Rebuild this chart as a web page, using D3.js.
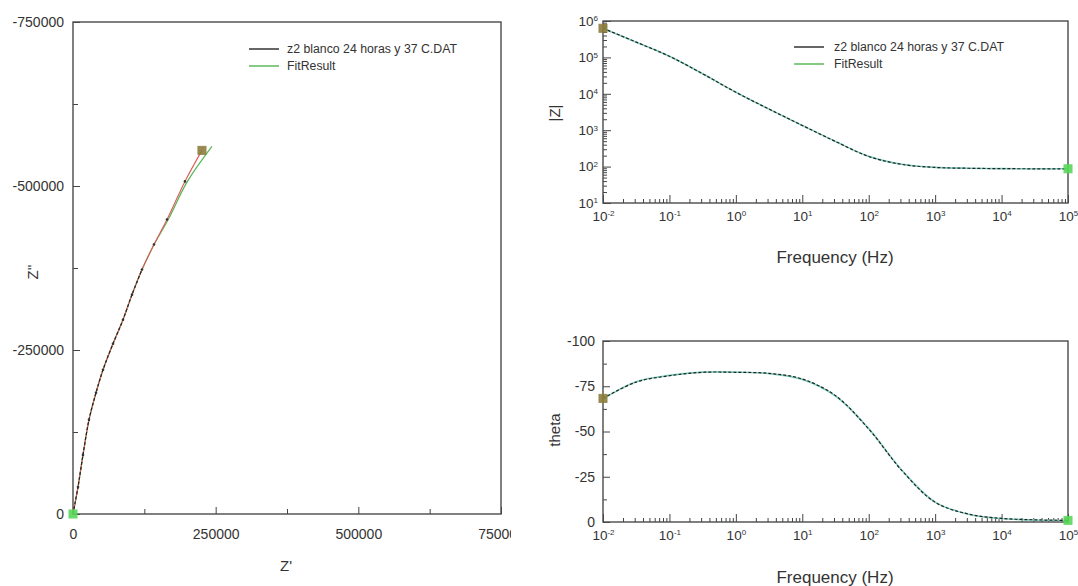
<!DOCTYPE html>
<html>
<head>
<meta charset="utf-8">
<script src="https://cdn.jsdelivr.net/npm/d3@7"></script>
<style>
  body { margin: 0; background: #fff; }
  svg { font-family: "Liberation Sans", Arial, sans-serif; }
  .tick text { fill: #333; }
  .tick line { stroke: #444; }
</style>
</head>
<body>
<svg id="chart" width="1078" height="586"></svg>
<script>
// Nyquist data (Z', Z'')
const nyqZr = [0, 8760, 17500, 28000, 40300, 52600, 70100, 87600, 103400, 120900, 141900, 164700, 196200, 226000];
const nyqZi = [0, -41200, -90100, -143500, -184800, -219900, -259600, -296200, -334400, -372600, -410800, -448900, -507000, -554300];
const fitZr = [0, 8800, 17550, 28050, 40350, 52650, 70150, 87650, 103450, 121000, 142100, 166800, 200500, 243500];
const fitZi = [0, -41200, -90100, -143500, -184800, -219900, -259600, -296200, -334400, -372600, -410800, -448900, -507000, -560400];

// Bode data
const freq = [0.01, 0.0316, 0.1, 0.316, 1, 3.16, 10, 31.6, 100, 316, 1000, 3162, 10000, 31623, 100000];
const magData = [631000, 263000, 107000, 35500, 11000, 3800, 1350, 490, 190, 115, 95, 90, 88, 87, 87];
const magFit = [620000, 262000, 107000, 35600, 11000, 3790, 1350, 492, 191, 116, 95, 90, 88, 87, 87];
const phaseData = [-68.3, -77.3, -80.8, -82.7, -82.7, -82.1, -79.0, -69.8, -51.4, -28.4, -10.9, -4.4, -2.0, -1.2, -0.9];
const phaseFit = [-68.0, -77.5, -81.0, -82.8, -82.8, -82.0, -78.8, -69.6, -51.6, -28.6, -11.0, -4.3, -1.9, -1.1, -0.8];

const nyqTicks = [0, 250000, 500000, 750000];
const nyqMinor = [125000, 375000, 625000];
const nyqYTicks = [0, -250000, -500000, -750000];
const nyqYMinor = [-125000, -375000, -625000];
const decades = [0.01, 0.1, 1, 10, 100, 1000, 10000, 100000];
const magDecades = [10, 100, 1000, 10000, 100000, 1000000];
const phaseTicks = [0, -25, -50, -75, -100];
const phaseMinor = [-12.5, -37.5, -62.5, -87.5];
const legendLabels = ["z2 blanco 24 horas y 37 C.DAT", "FitResult"];

const svg = d3.select("#chart");
const frameColor = "#4a4a4a";
const redC = "#e05a5a", greenC = "#5cb85c", olive = "#8c7d3c", brightGreen = "#58d858";
const plain = d => String(d); // keep ascii hyphen as minus

function minorLog(lo, hi) {
  const out = [];
  for (let e = lo; e < hi; e++) for (let k = 2; k <= 9; k++) out.push(k * Math.pow(10, e));
  return out;
}

function supLabels(sel) {
  sel.selectAll(".tick text").each(function (d) {
    const t = d3.select(this);
    const e = Math.round(Math.log10(d));
    t.text(null);
    t.append("tspan").text("10");
    t.append("tspan").attr("dy", "-0.55em").attr("font-size", "8px").text(e);
  });
}

function legend(g, x, y, gap) {
  const colors = ["#333", greenC];
  legendLabels.forEach((lab, i) => {
    g.append("line").attr("x1", x).attr("x2", x + 30)
      .attr("y1", y + i * 17).attr("y2", y + i * 17)
      .attr("stroke", colors[i]).attr("stroke-width", 1.5);
    g.append("text").attr("x", x + gap).attr("y", y + i * 17 + 4)
      .attr("font-size", "12.3px").attr("fill", "#333").text(lab);
  });
}

function frame(g, x0, y0, x1, y1) {
  g.append("rect").attr("x", x0).attr("y", y0)
    .attr("width", x1 - x0).attr("height", y1 - y0)
    .attr("fill", "none").attr("stroke", frameColor).attr("stroke-width", 1.4);
}

function square(g, x, y, c) {
  g.append("rect").attr("x", x - 4).attr("y", y - 4).attr("width", 8).attr("height", 8)
    .attr("fill", c).attr("stroke", c).attr("opacity", 0.9);
}

//********** NYQUIST ***********//
svg.append("clipPath").attr("id", "leftClip")
  .append("rect").attr("x", 0).attr("y", 0).attr("width", 511).attr("height", 586);
const gL = svg.append("g").attr("clip-path", "url(#leftClip)");

const xN = d3.scaleLinear().domain([0, 750000]).range([73, 501]);
const yN = d3.scaleLinear().domain([0, -750000]).range([514, 22]);

gL.append("g").attr("transform", "translate(0,514)")
  .call(d3.axisBottom(xN).tickValues(nyqTicks).tickSize(-7).tickPadding(15).tickFormat(plain))
  .call(g => g.select(".domain").remove())
  .selectAll("text").attr("font-size", "14px");
gL.append("g").attr("transform", "translate(0,514)")
  .call(d3.axisBottom(xN).tickValues(nyqMinor).tickSize(-5).tickFormat(""))
  .call(g => g.select(".domain").remove());
gL.append("g").attr("transform", "translate(73,0)")
  .call(d3.axisLeft(yN).tickValues(nyqYTicks).tickSize(-7).tickPadding(9).tickFormat(plain))
  .call(g => g.select(".domain").remove())
  .selectAll("text").attr("font-size", "14px");
gL.append("g").attr("transform", "translate(73,0)")
  .call(d3.axisLeft(yN).tickValues(nyqYMinor).tickSize(-5).tickFormat(""))
  .call(g => g.select(".domain").remove());
frame(gL, 73, 22, 501, 514);

const nyqLine = d3.line().x(d => xN(d[0])).y(d => yN(d[1])).curve(d3.curveCatmullRom);
const nyqPts = nyqZr.map((v, i) => [v, nyqZi[i]]);
const fitPts = fitZr.map((v, i) => [v, fitZi[i]]);

gL.append("path").datum(fitPts).attr("d", nyqLine)
  .attr("fill", "none").attr("stroke", greenC).attr("stroke-width", 1.3);
gL.append("path").datum(nyqPts).attr("d", nyqLine)
  .attr("fill", "none").attr("stroke", redC).attr("stroke-width", 1.1);
gL.append("path").datum(nyqPts.filter(d => d[0] <= 121000)).attr("d", nyqLine)
  .attr("fill", "none").attr("stroke", "#222").attr("stroke-width", 1.2).attr("stroke-dasharray", "3,2");
gL.selectAll(".ndot").data(nyqPts.slice(1, -1)).join("circle")
  .attr("cx", d => xN(d[0])).attr("cy", d => yN(d[1])).attr("r", 1.3).attr("fill", "#333");
square(gL, xN(nyqZr[nyqZr.length - 1]), yN(nyqZi[nyqZi.length - 1]), olive);
square(gL, xN(0), yN(0), brightGreen);

legend(gL, 249, 49, 38);
gL.append("text").attr("x", 286).attr("y", 571).attr("text-anchor", "middle")
  .attr("font-size", "15px").attr("fill", "#333").text("Z'");
gL.append("text").attr("transform", "translate(38,272) rotate(-90)").attr("text-anchor", "middle")
  .attr("font-size", "15px").attr("fill", "#333").text("Z''");

//********** BODE |Z| ***********//
const xB = d3.scaleLog().domain([0.01, 100000]).range([603, 1068]);
const yM = d3.scaleLog().domain([10, 1000000]).range([203, 21]);
const yP = d3.scaleLinear().domain([0, -100]).range([522, 341]);
const gT = svg.append("g");

function freqAxis(g, y0) {
  g.append("g").attr("transform", `translate(0,${y0})`)
    .call(d3.axisBottom(xB).tickValues(decades).tickSize(-8).tickPadding(8))
    .call(g => g.select(".domain").remove())
    .call(supLabels)
    .selectAll("text").attr("font-size", "13.5px");
  g.append("g").attr("transform", `translate(0,${y0})`)
    .call(d3.axisBottom(xB).tickValues(minorLog(-2, 5)).tickSize(-4).tickFormat(""))
    .call(g => g.select(".domain").remove());
}

freqAxis(gT, 203);
gT.append("g").attr("transform", "translate(603,0)")
  .call(d3.axisLeft(yM).tickValues(magDecades).tickSize(-8).tickPadding(5))
  .call(g => g.select(".domain").remove())
  .call(supLabels)
  .selectAll("text").attr("font-size", "13.5px");
gT.append("g").attr("transform", "translate(603,0)")
  .call(d3.axisLeft(yM).tickValues(minorLog(1, 6)).tickSize(-4).tickFormat(""))
  .call(g => g.select(".domain").remove());
frame(gT, 603, 21, 1068, 203);

const magLine = d3.line().x((d, i) => xB(freq[i])).y(d => yM(d)).curve(d3.curveCatmullRom);
gT.append("path").datum(magFit).attr("d", magLine)
  .attr("fill", "none").attr("stroke", "#7fd0c0").attr("stroke-width", 1.6);
gT.append("path").datum(magData).attr("d", magLine)
  .attr("fill", "none").attr("stroke", "#222").attr("stroke-width", 1.2).attr("stroke-dasharray", "3,2");
square(gT, xB(freq[0]), yM(magData[0]), olive);
square(gT, xB(freq[freq.length - 1]), yM(magData[magData.length - 1]), brightGreen);
legend(gT, 794, 47, 40);
gT.append("text").attr("x", 835).attr("y", 263).attr("text-anchor", "middle")
  .attr("font-size", "17px").attr("fill", "#333").text("Frequency (Hz)");
gT.append("text").attr("transform", "translate(560,113) rotate(-90)").attr("text-anchor", "middle")
  .attr("font-size", "15px").attr("fill", "#333").text("|Z|");

//********** BODE THETA ***********//
const gB = svg.append("g");
freqAxis(gB, 522);
gB.append("g").attr("transform", "translate(603,0)")
  .call(d3.axisLeft(yP).tickValues(phaseTicks).tickSize(-7).tickPadding(8).tickFormat(plain))
  .call(g => g.select(".domain").remove())
  .selectAll("text").attr("font-size", "14px");
gB.append("g").attr("transform", "translate(603,0)")
  .call(d3.axisLeft(yP).tickValues(phaseMinor).tickSize(-4).tickFormat(""))
  .call(g => g.select(".domain").remove());
frame(gB, 603, 341, 1068, 522);

const phLine = d3.line().x((d, i) => xB(freq[i])).y(d => yP(d)).curve(d3.curveCatmullRom);
gB.append("path").datum(phaseFit).attr("d", phLine)
  .attr("fill", "none").attr("stroke", "#7fd0c0").attr("stroke-width", 1.6);
gB.append("path").datum(phaseData).attr("d", phLine)
  .attr("fill", "none").attr("stroke", "#222").attr("stroke-width", 1.2).attr("stroke-dasharray", "3,2");
square(gB, xB(freq[0]), yP(phaseData[0]), olive);
square(gB, xB(freq[freq.length - 1]), yP(phaseData[phaseData.length - 1]), brightGreen);
gB.append("text").attr("x", 835).attr("y", 583).attr("text-anchor", "middle")
  .attr("font-size", "17px").attr("fill", "#333").text("Frequency (Hz)");
gB.append("text").attr("transform", "translate(560,430) rotate(-90)").attr("text-anchor", "middle")
  .attr("font-size", "15px").attr("fill", "#333").text("theta");
</script>
</body>
</html>
